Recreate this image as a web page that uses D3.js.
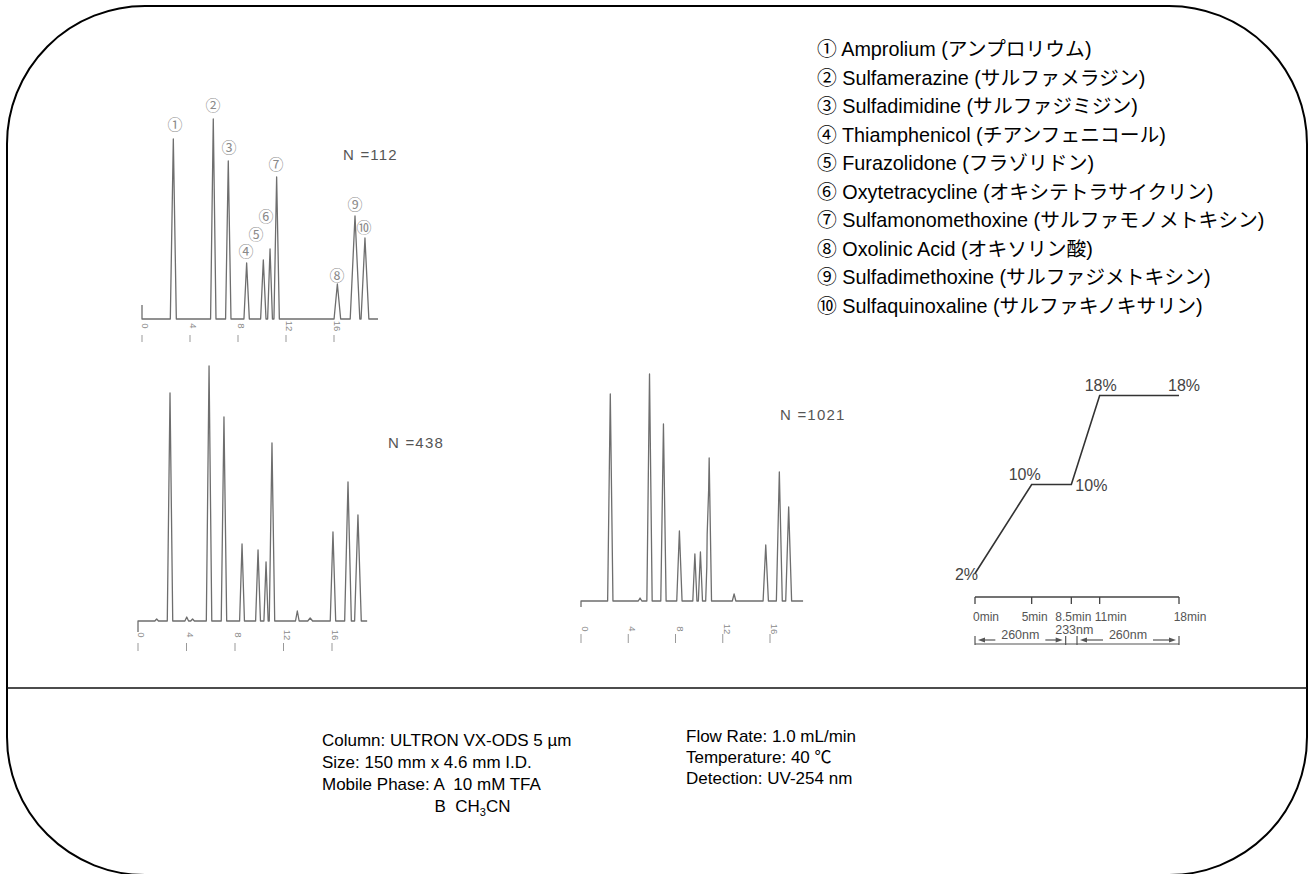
<!DOCTYPE html>
<html><head><meta charset="utf-8">
<script src="https://cdn.jsdelivr.net/npm/d3@7"></script>
<style>
body{margin:0;background:#fff}
svg{display:block}
text{white-space:pre}
</style>
</head><body>
<svg id="c" width="1311" height="874"></svg>
<script>
// ================= DATA =================
const peakLabels = ["①","②","③","④","⑤","⑥","⑦","⑧","⑨","⑩"];
const compoundNamesEn = ["Amprolium","Sulfamerazine","Sulfadimidine","Thiamphenicol","Furazolidone",
  "Oxytetracycline","Sulfamonomethoxine","Oxolinic Acid","Sulfadimethoxine","Sulfaquinoxaline"];
const compoundNamesJa = ["アンプロリウム","サルファメラジン","サルファジミジン","チアンフェニコール","フラゾリドン",
  "オキシテトラサイクリン","サルファモノメトキシン","オキソリン酸","サルファジメトキシン","サルファキノキサリン"];

const timeTickLabels = [0,4,8,12,16];

// Chromatogram N=112 (retention time in min, response, base width in min)
const n112Times   = [2.61,5.94,7.19,8.72,10.11,10.67,11.22,16.28,17.75,18.58];
const n112Heights = [180,200,158,56,59,70,142,35,103,81];
const n112Widths  = [0.5,0.45,0.45,0.45,0.45,0.4,0.45,0.55,0.8,0.65];
const n112LabelTimes   = [2.75,5.92,7.25,8.67,9.5,10.33,11.17,16.25,17.75,18.5];
const n112LabelHeights = [196,215,173,69,86,104,156,45,116,93];

// Chromatogram N=438
const n438Times   = [1.54,2.64,4.02,4.5,5.86,7.09,8.58,9.9,10.56,11.05,13.14,14.2,16.08,17.32,18.14];
const n438Heights = [2,228,4,2,255,204,77,71,59,178,10,3,89,139,106];
const n438Widths  = [0.3,0.45,0.3,0.3,0.45,0.45,0.4,0.4,0.35,0.45,0.3,0.4,0.45,0.55,0.55];

// Chromatogram N=1021
const n1021Times   = [2.48,5.0,5.8,6.98,8.33,9.64,10.11,10.68,10.85,12.96,15.64,16.79,17.58];
const n1021Heights = [207,3,227,177,70,47,49,45,143,7,56,129,94];
const n1021Widths  = [0.45,0.3,0.45,0.45,0.45,0.35,0.35,0.25,0.4,0.3,0.45,0.5,0.5];

// Gradient program (B %)
const gradTimes   = [0,5,8.5,11,18];
const gradPercent = [2,10,10,18,18];
const gradTimeLabels = ["0min","5min","8.5min","11min","18min"];
const wlStart = [0,8,9];
const wlEnd   = [8,9,18];
const wlLabels = ["260nm","233nm","260nm"];

const conditionsLeft  = ["Column: ULTRON VX-ODS 5 µm","Size: 150 mm x 4.6 mm I.D.","Mobile Phase: A  10 mM TFA"];
const conditionsRight = ["Flow Rate: 1.0 mL/min","Temperature: 40 ℃","Detection: UV-254 nm"];

// ================= DRAW =================
const svg = d3.select("#c");
const LATIN = "'Liberation Sans', Arial, 'Noto Sans CJK JP', sans-serif";
const CJK = "'Noto Sans CJK JP', 'Liberation Sans', sans-serif";

// frame
svg.append("rect").attr("x",7).attr("y",6).attr("width",1300).attr("height",869)
  .attr("rx",138).attr("ry",138).attr("fill","none").attr("stroke","#000").attr("stroke-width",2);
svg.append("line").attr("x1",7).attr("x2",1307).attr("y1",688).attr("y2",688)
  .attr("stroke","#111").attr("stroke-width",1.6);

function drawChrom(cfg){
  const g = svg.append("g");
  const x = d3.scaleLinear().domain([0,16]).range([cfg.x0, cfg.x16]);
  const y = d3.scaleLinear().domain([0,250]).range([cfg.base, cfg.base-250]);
  const peaks = cfg.times.map((t,i)=>({t, h:cfg.heights[i], w:cfg.widths[i]}));
  const val = t => d3.sum(peaks, p => Math.max(0, p.h*(1-Math.abs(t-p.t)/(p.w/2))));
  let bps = [0, cfg.end];
  peaks.forEach(p=>{ bps.push(p.t-p.w/2, p.t, p.t+p.w/2); });
  bps = Array.from(new Set(bps.map(v=>+v.toFixed(4)))).filter(v=>v>=0 && v<=cfg.end).sort((a,b)=>a-b);
  const pts = [[0, cfg.startMark]].concat(bps.map(t=>[t, val(t)]));
  const line = d3.line().x(d=>x(d[0])).y(d=>y(d[1]));
  g.append("path").attr("d", line(pts)).attr("fill","none")
    .attr("stroke","#6e6e6e").attr("stroke-width",1.3).attr("stroke-linejoin","round");
  timeTickLabels.forEach(v=>{
    const xv = x(v);
    g.append("text").attr("x", xv+cfg.labelDx).attr("y", cfg.labelY)
      .attr("transform", `rotate(90,${xv+cfg.labelDx},${cfg.labelY})`)
      .attr("text-anchor","middle").attr("dominant-baseline","central")
      .attr("font-family",LATIN).attr("font-size",9.5).attr("fill","#8a8a8a").text(v);
    g.append("line").attr("x1",xv).attr("x2",xv).attr("y1",cfg.tickY0).attr("y2",cfg.tickY1)
      .attr("stroke","#999").attr("stroke-width",1);
  });
  if (cfg.labelTimes){
    cfg.labelTimes.forEach((t,i)=>{
      g.append("text").attr("x", x(t)).attr("y", y(cfg.labelHeights[i]))
        .attr("text-anchor","middle").attr("dominant-baseline","central")
        .attr("font-family",CJK).attr("font-size",15).attr("fill","#8a8a8a").text(peakLabels[i]);
    });
  }
  g.append("text").attr("x",cfg.nx).attr("y",cfg.ny).attr("font-family",LATIN)
    .attr("font-size",15).attr("letter-spacing",1.2).attr("fill","#555").text(cfg.nText);
}

drawChrom({x0:142,x16:334,base:319,end:19.67,startMark:14,times:n112Times,heights:n112Heights,widths:n112Widths,
  labelTimes:n112LabelTimes,labelHeights:n112LabelHeights,labelY:326,labelDx:3.5,tickY0:335,tickY1:342,
  nx:343,ny:160,nText:"N =112"});
drawChrom({x0:138,x16:332,base:621,end:18.9,startMark:-11,times:n438Times,heights:n438Heights,widths:n438Widths,
  labelY:635,labelDx:3.5,tickY0:643,tickY1:651,nx:388,ny:448,nText:"N =438"});
drawChrom({x0:581,x16:770,base:601,end:18.8,startMark:-6,times:n1021Times,heights:n1021Heights,widths:n1021Widths,
  labelY:629,labelDx:4.5,tickY0:634,tickY1:643,nx:780,ny:420,nText:"N =1021"});

// gradient diagram
(function(){
  const g = svg.append("g");
  const x = d3.scaleLinear().domain([0,18]).range([975,1179]);
  const y = d3.scaleLinear().domain([2,18]).range([573.5,395.5]);
  const line = d3.line().x((d,i)=>x(gradTimes[i])).y(d=>y(d));
  g.append("path").attr("d", line(gradPercent)).attr("fill","none").attr("stroke","#333").attr("stroke-width",1.6);
  const pctOff = [[3,6,"end"],[-7,-5,"middle"],[4,6,"start"],[1,-5,"middle"],[5,-5,"middle"]];
  gradPercent.forEach((p,i)=>{
    g.append("text").attr("x", x(gradTimes[i])+pctOff[i][0]).attr("y", y(p)+pctOff[i][1])
      .attr("text-anchor",pctOff[i][2]).attr("font-family",LATIN).attr("font-size",16)
      .attr("fill","#444").text(p+"%");
  });
  const ay = 597;
  g.append("line").attr("x1",x(0)).attr("x2",x(18)).attr("y1",ay).attr("y2",ay).attr("stroke","#444").attr("stroke-width",1.3);
  const tlOff = [11,3,2,11,11];
  gradTimes.forEach((t,i)=>{
    g.append("line").attr("x1",x(t)).attr("x2",x(t)).attr("y1",ay).attr("y2",ay+7).attr("stroke","#444").attr("stroke-width",1.3);
    g.append("text").attr("x",x(t)+tlOff[i]).attr("y",621).attr("text-anchor","middle")
      .attr("font-family",LATIN).attr("font-size",12).attr("fill","#555").text(gradTimeLabels[i]);
  });
  const by = 644;
  g.append("line").attr("x1",x(0)).attr("x2",x(18)).attr("y1",by).attr("y2",by).attr("stroke","#555").attr("stroke-width",1.2);
  const ends = Array.from(new Set(wlStart.concat(wlEnd)));
  ends.forEach(t=>{
    g.append("line").attr("x1",x(t)).attr("x2",x(t)).attr("y1",by-8).attr("y2",by+1).attr("stroke","#555").attr("stroke-width",1.2);
  });
  function arrow(xFrom, xTo, yy){
    const dir = Math.sign(xTo-xFrom);
    g.append("line").attr("x1",xFrom).attr("x2",xTo-dir*5).attr("y1",yy).attr("y2",yy).attr("stroke","#555").attr("stroke-width",1.2);
    g.append("path").attr("d",`M${xTo},${yy} L${xTo-dir*7},${yy-2.5} L${xTo-dir*7},${yy+2.5} Z`).attr("fill","#555");
  }
  wlLabels.forEach((lab,i)=>{
    const xa = x(wlStart[i]), xb = x(wlEnd[i]), cx = (xa+xb)/2;
    const wide = (xb-xa) > 40;
    g.append("text").attr("x", wide? cx : cx+3).attr("y", wide? 639 : 634).attr("text-anchor","middle")
      .attr("font-family",LATIN).attr("font-size",12.5).attr("fill","#555").text(lab);
    if (wide){
      arrow(cx-25, xa+3, 640);
      arrow(cx+25, xb-3, 640);
    }
  });
})();

// legend
const legend = svg.append("g");
peakLabels.forEach((lab,i)=>{
  legend.append("text").attr("x",817).attr("y",56+28.56*i)
    .attr("font-family",LATIN).attr("font-size",19.8).attr("fill","#000")
    .text(`${lab} ${compoundNamesEn[i]} (${compoundNamesJa[i]})`);
});

// conditions
const cond = svg.append("g").attr("font-family",LATIN).attr("font-size",17).attr("fill","#000");
const leftBase = [746,768,790];
conditionsLeft.forEach((s,i)=>{
  cond.append("text").attr("x",322).attr("y",leftBase[i]).text(s);
});
const tmp = cond.append("text").attr("x",0).attr("y",-100).text("Mobile Phase: ");
const bx = 322 + tmp.node().getComputedTextLength();
tmp.remove();
const bt = cond.append("text").attr("x",bx).attr("y",812);
bt.append("tspan").text("B  CH");
bt.append("tspan").attr("font-size",11).attr("dy",4).text("3");
bt.append("tspan").attr("dy",-4).text("CN");
const rightBase = [742,763,784];
conditionsRight.forEach((s,i)=>{
  cond.append("text").attr("x",686).attr("y",rightBase[i]).text(s);
});
</script>
</body></html>
